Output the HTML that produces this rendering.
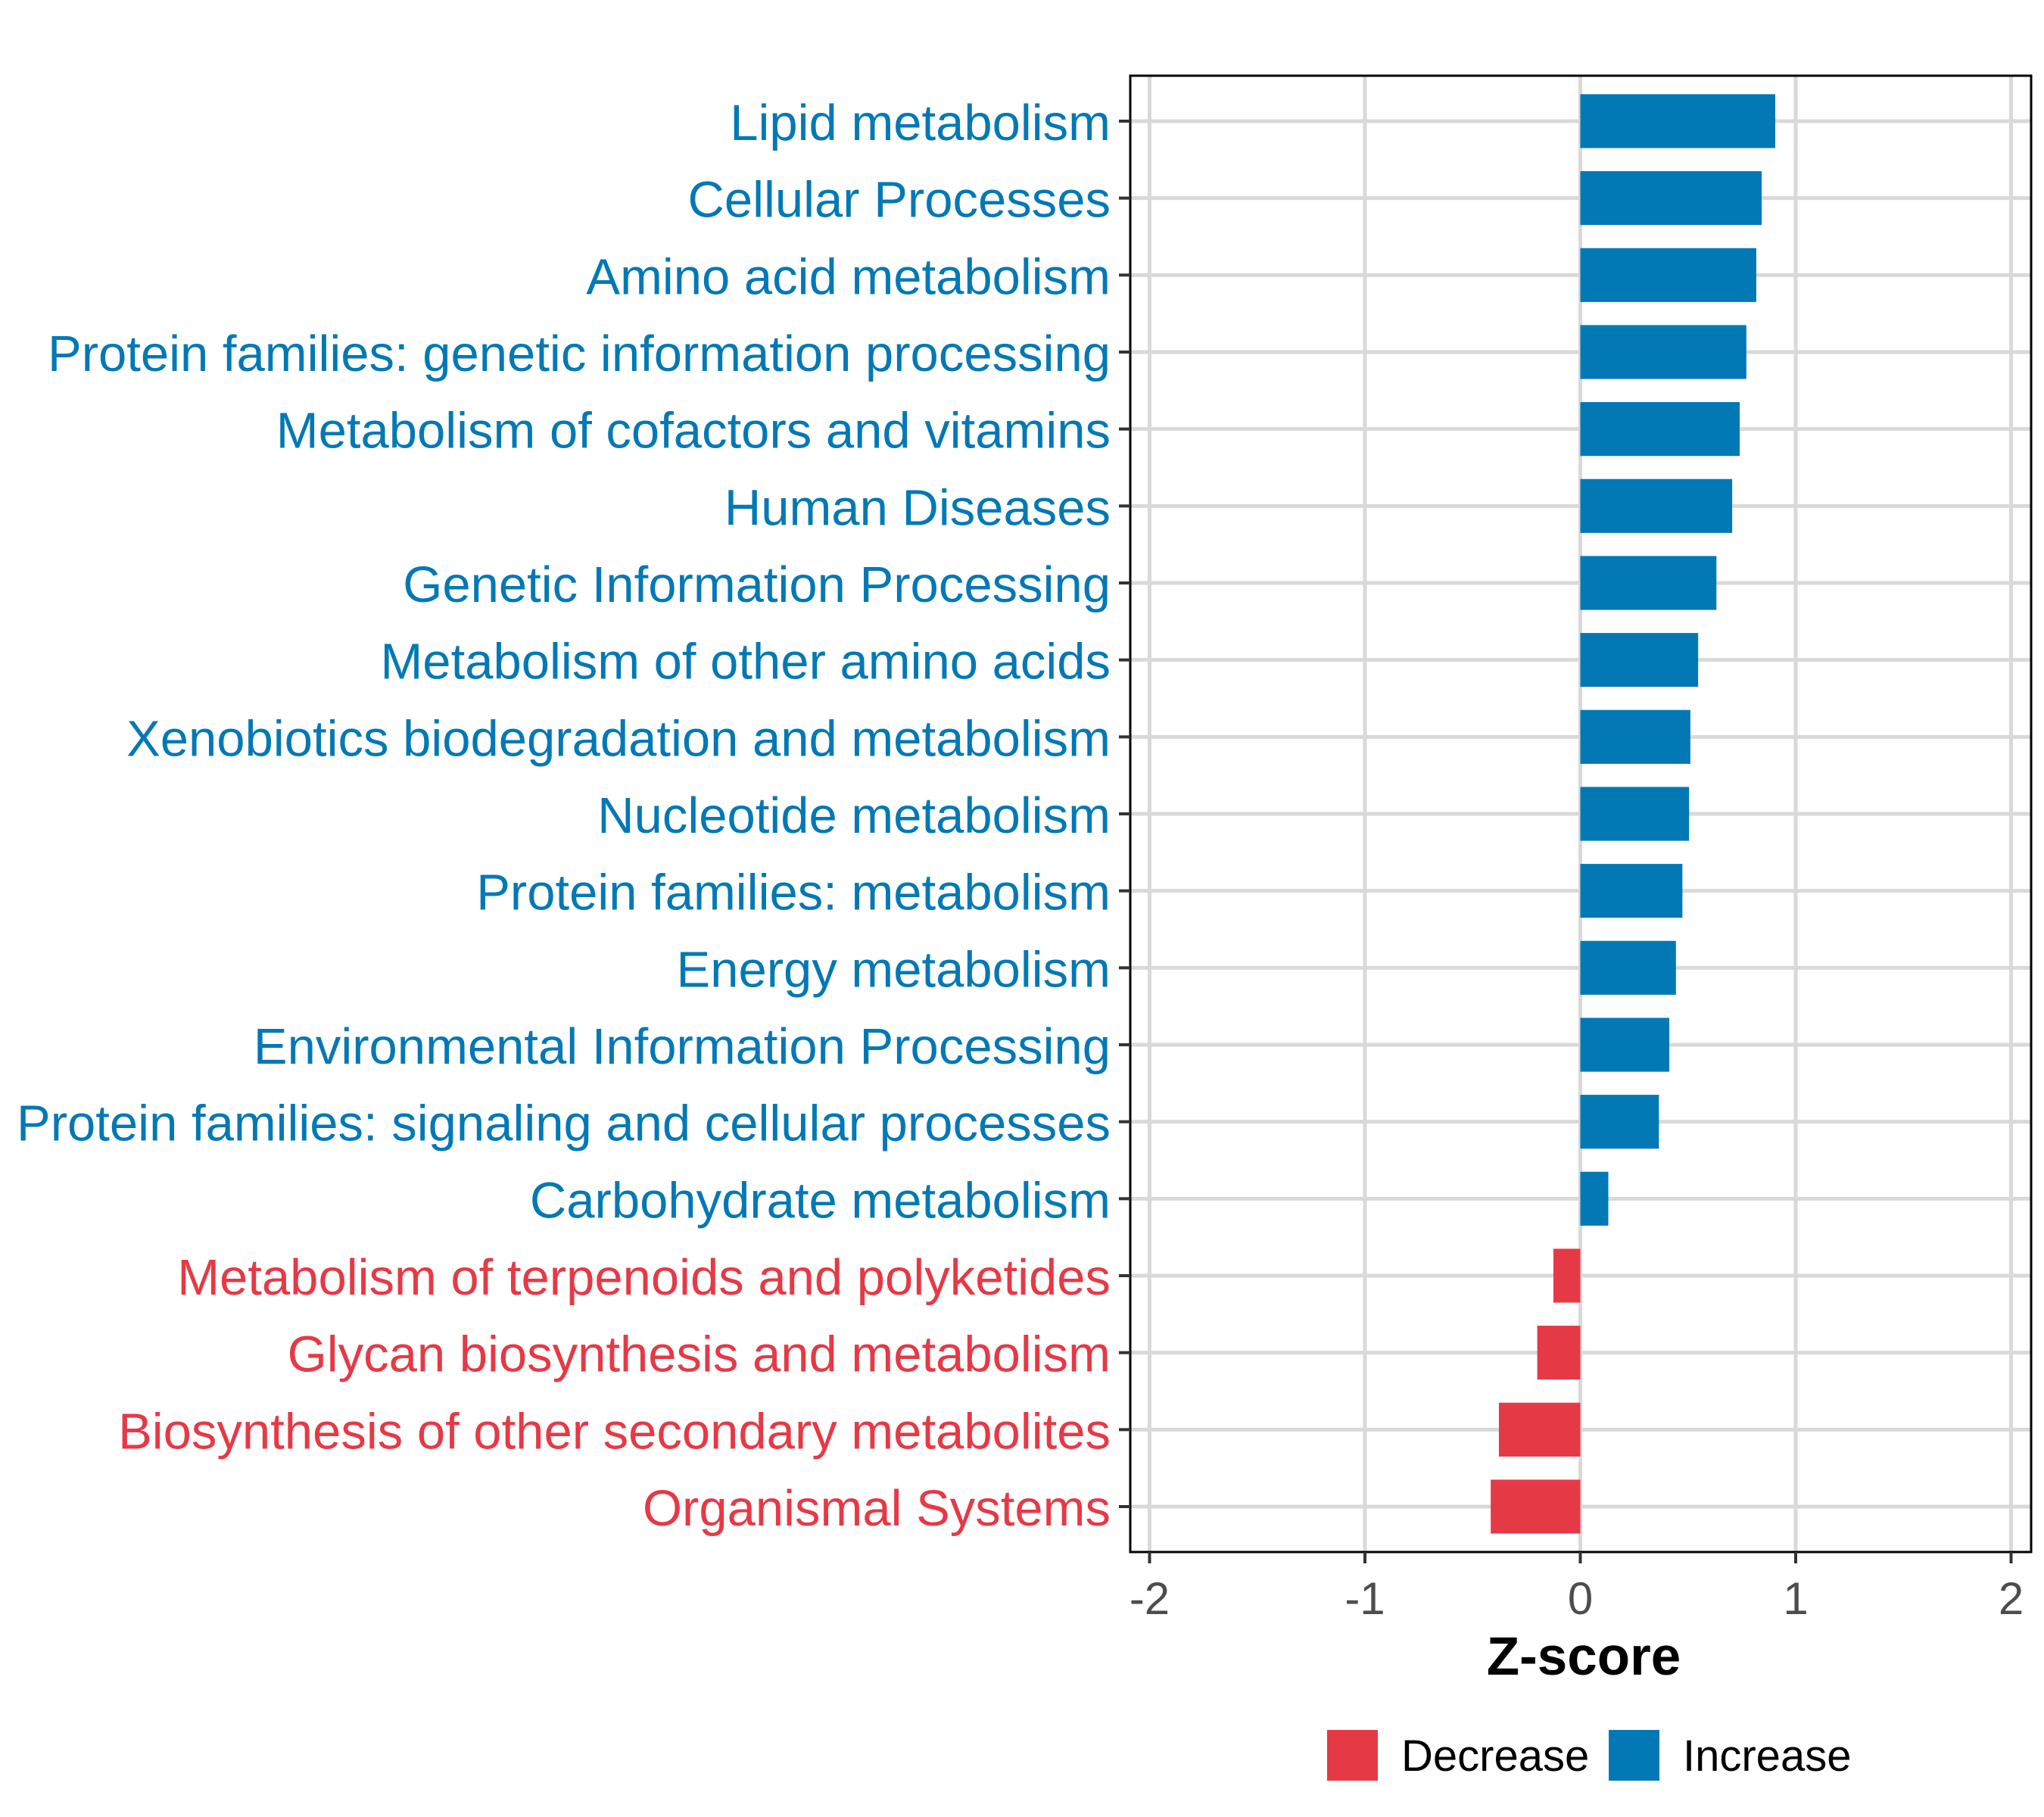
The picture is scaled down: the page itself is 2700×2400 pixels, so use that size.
<!DOCTYPE html>
<html><head><meta charset="utf-8"><style>
html,body{margin:0;padding:0;background:#fff;}
svg{display:block;font-family:"Liberation Sans",Arial,sans-serif;}
</style></head><body>
<svg id="chart" width="2700" height="2400" viewBox="0 0 2700 2400" xmlns="http://www.w3.org/2000/svg">
<rect width="2700" height="2400" fill="#fff"/>
<g id="grid"></g>
<g id="bars"></g>
<rect x="1493" y="100" width="1190" height="1950" fill="none" stroke="#000" stroke-width="3"/>
<g id="yaxis"></g>
<g id="xaxis"></g>
<text x="2092" y="2212" text-anchor="middle" font-size="71" font-weight="bold" fill="#000">Z-score</text>
<g>
<rect x="1753" y="2285" width="67" height="67" fill="#E63946"/>
<text x="1851" y="2339" font-size="58" fill="#000">Decrease</text>
<rect x="2125" y="2285" width="67" height="67" fill="#0279B5"/>
<text x="2223" y="2339" font-size="58" fill="#000">Increase</text>
</g>
</svg>
<script>
const categories = ["Lipid metabolism","Cellular Processes","Amino acid metabolism","Protein families: genetic information processing","Metabolism of cofactors and vitamins","Human Diseases","Genetic Information Processing","Metabolism of other amino acids","Xenobiotics biodegradation and metabolism","Nucleotide metabolism","Protein families: metabolism","Energy metabolism","Environmental Information Processing","Protein families: signaling and cellular processes","Carbohydrate metabolism","Metabolism of terpenoids and polyketides","Glycan biosynthesis and metabolism","Biosynthesis of other secondary metabolites","Organismal Systems"];
const zscores = [0.905,0.842,0.817,0.771,0.74,0.705,0.632,0.547,0.511,0.505,0.474,0.444,0.413,0.365,0.13,-0.125,-0.2,-0.378,-0.416];
const xTicks = [-2,-1,0,1,2];
const xTickLabels = ["-2","-1","0","1","2"];

const NS = "http://www.w3.org/2000/svg";
const X0 = 2087.5, UNIT = 284.5;
function xs(v){ return X0 + v*UNIT; }
const Y0 = 160, STEP = (1990-160)/18;
function ys(i){ return Y0 + i*STEP; }
const BAR_H = 0.7*STEP;
function mk(tag, attrs, parent){ const e=document.createElementNS(NS,tag); for(const k in attrs) e.setAttribute(k,attrs[k]); parent.appendChild(e); return e; }
const grid=document.getElementById('grid'), bars=document.getElementById('bars'), yaxis=document.getElementById('yaxis'), xaxis=document.getElementById('xaxis');

xTicks.forEach((t,i)=>{
  const g = mk('line',{x1:xs(t),x2:xs(t),y1:100,y2:2050,stroke:'#D9D9D9','stroke-width':5},grid);
  
  
  const tk = mk('line',{x1:xs(t),x2:xs(t),y1:2050,y2:2065,stroke:'#333','stroke-width':4},xaxis);
  
  
  const tl = mk('text',{x:xs(t),y:2132,'text-anchor':'middle','font-size':60,fill:'#4D4D4D'},xaxis);
  tl.textContent = xTickLabels[i];
  
  
});
categories.forEach((c,i)=>{
  const y = ys(i);
  const g = mk('line',{x1:1493,x2:2683,y1:y,y2:y,stroke:'#D9D9D9','stroke-width':5},grid);
  
  
  const v = zscores[i];
  const col = v<0 ? '#E63946' : '#0279B5';
  const b = mk('rect',{x:Math.min(xs(0),xs(v)),y:y-BAR_H/2,width:Math.abs(xs(v)-xs(0)),height:BAR_H,fill:col},bars);
  
  
  const tk = mk('line',{x1:1478,x2:1493,y1:y,y2:y,stroke:'#333','stroke-width':4},yaxis);
  
  
  const tl = mk('text',{x:1467,y:y+25,'text-anchor':'end','font-size':67,fill:col},yaxis);
  tl.textContent = c;
  
  
});
</script>
</body></html>
